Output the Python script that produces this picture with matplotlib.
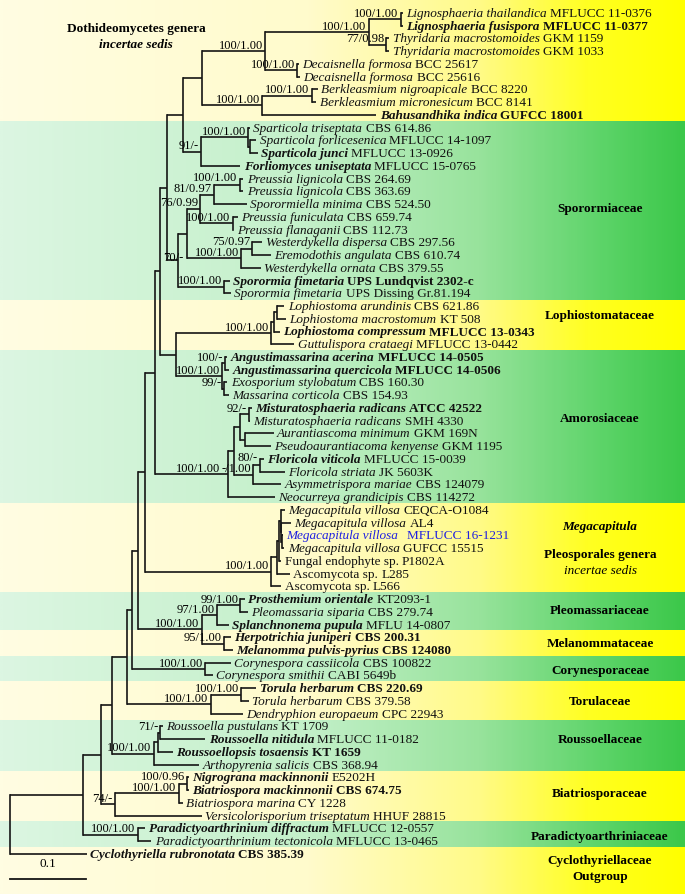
import matplotlib
matplotlib.use("Agg")
import matplotlib.pyplot as plt
import numpy as np
from matplotlib.colors import LinearSegmentedColormap

plt.rcParams["font.family"] = ["Liberation Serif", "DejaVu Serif"]

# ---- leaves (top to bottom) ----
leaf_species = [
    "Lignosphaeria thailandica", "Lignosphaeria fusispora", "Thyridaria macrostomoides",
    "Thyridaria macrostomoides", "Decaisnella formosa", "Decaisnella formosa",
    "Berkleasmium nigroapicale", "Berkleasmium micronesicum", "Bahusandhika indica",
    "Sparticola triseptata", "Sparticola forlicesenica", "Sparticola junci",
    "Forliomyces uniseptata", "Preussia lignicola", "Preussia lignicola",
    "Sporormiella minima", "Preussia funiculata", "Preussia flanaganii",
    "Westerdykella dispersa", "Eremodothis angulata", "Westerdykella ornata",
    "Sporormia fimetaria", "Sporormia fimetaria", "Lophiostoma arundinis",
    "Lophiostoma macrostomum", "Lophiostoma compressum", "Guttulispora crataegi",
    "Angustimassarina acerina", "Angustimassarina quercicola", "Exosporium stylobatum",
    "Massarina corticola", "Misturatosphaeria radicans", "Misturatosphaeria radicans",
    "Aurantiascoma minimum", "Pseudoaurantiacoma kenyense", "Floricola viticola",
    "Floricola striata", "Asymmetrispora mariae", "Neocurreya grandicipis",
    "Megacapitula villosa", "Megacapitula villosa", "Megacapitula villosa",
    "Megacapitula villosa", "Fungal endophyte sp.", "Ascomycota sp.",
    "Ascomycota sp.", "Prosthemium orientale", "Pleomassaria siparia",
    "Splanchnonema pupula", "Herpotrichia juniperi", "Melanomma pulvis-pyrius",
    "Corynespora cassiicola", "Corynespora smithii", "Torula herbarum",
    "Torula herbarum", "Dendryphion europaeum", "Roussoella pustulans",
    "Roussoella nitidula", "Roussoellopsis tosaensis", "Arthopyrenia salicis",
    "Nigrograna mackinnonii", "Biatriospora mackinnonii", "Biatriospora marina",
    "Versicolorisporium triseptatum", "Paradictyoarthrinium diffractum",
    "Paradictyoarthrinium tectonicola", "Cyclothyriella rubronotata",
]
leaf_strains = [
    "MFLUCC 11-0376", "MFLUCC 11-0377", "GKM 1159", "GKM 1033", "BCC 25617", "BCC 25616",
    "BCC 8220", "BCC 8141", "GUFCC 18001", "CBS 614.86", "MFLUCC 14-1097", "MFLUCC 13-0926",
    "MFLUCC 15-0765", "CBS 264.69", "CBS 363.69", "CBS 524.50", "CBS 659.74", "CBS 112.73",
    "CBS 297.56", "CBS 610.74", "CBS 379.55", "UPS Lundqvist 2302-c", "UPS Dissing Gr.81.194",
    "CBS 621.86", "KT 508", "MFLUCC 13-0343", "MFLUCC 13-0442", "MFLUCC 14-0505",
    "MFLUCC 14-0506", "CBS 160.30", "CBS 154.93", "ATCC 42522", "SMH 4330", "GKM 169N",
    "GKM 1195", "MFLUCC 15-0039", "JK 5603K", "CBS 124079", "CBS 114272", "CEQCA-O1084",
    "AL4", "MFLUCC 16-1231", "GUFCC 15515", "P1802A", "L285", "L566", "KT2093-1",
    "CBS 279.74", "MFLU 14-0807", "CBS 200.31", "CBS 124080", "CBS 100822", "CABI 5649b",
    "CBS 220.69", "CBS 379.58", "CPC 22943", "KT 1709", "MFLUCC 11-0182", "KT 1659",
    "CBS 368.94", "E5202H", "CBS 674.75", "CY 1228", "HHUF 28815", "MFLUCC 12-0557",
    "MFLUCC 13-0465", "CBS 385.39",
]
bold_species = {1, 8, 11, 12, 21, 25, 27, 28, 31, 35, 46, 48, 49, 50, 53, 57, 58, 60, 61, 64, 66}
bold_strain = {1, 8, 21, 25, 27, 28, 31, 49, 50, 53, 58, 61, 66}
plain_species = {"Fungal endophyte sp.", "Ascomycota sp."}
blue_leaf = 41

# tip depth (substitutions/site from root)
leaf_depth = [
    0.517, 0.517, 0.499, 0.499, 0.380, 0.382, 0.405, 0.403, 0.482,
    0.316, 0.324, 0.326, 0.303, 0.307, 0.307, 0.312, 0.300, 0.294,
    0.332, 0.343, 0.330, 0.289, 0.291, 0.361, 0.363, 0.355, 0.374,
    0.286, 0.288, 0.286, 0.288, 0.318, 0.316, 0.347, 0.343, 0.334,
    0.362, 0.357, 0.349, 0.362, 0.370, 0.359, 0.361, 0.357, 0.368,
    0.357, 0.309, 0.313, 0.288, 0.291, 0.293, 0.291, 0.267, 0.324,
    0.314, 0.307, 0.201, 0.257, 0.214, 0.249, 0.235, 0.235, 0.227,
    0.252, 0.178, 0.186, 0.101,
]

# internal nodes: (name, children, depth, support)
clades = [
    ("Lig", [0, 1], 0.514, "100/1.00"),
    ("Thy", [2, 3], 0.495, "77/0.98"),
    ("B", ["Lig", "Thy"], 0.472, "100/1.00"),
    ("Dec", [4, 5], 0.378, "100/1.00"),
    ("C", ["B", "Dec"], 0.336, "100/1.00"),
    ("Berk", [6, 7], 0.397, "100/1.00"),
    ("G", ["Berk", 8], 0.332, "100/1.00"),
    ("F", ["C", "G"], 0.253, ""),
    ("S2", [10, 11], 0.316, ""),
    ("S", [9, "S2"], 0.313, "100/1.00"),
    ("I", ["S", 12], 0.251, "91/-"),
    ("H", ["F", "I"], 0.228, ""),
    ("P1", [13, 14], 0.302, "100/1.00"),
    ("P2", ["P1", 15], 0.268, "81/0.97"),
    ("P3", [16, 17], 0.293, "100/1.00"),
    ("K", ["P2", "P3"], 0.250, "76/0.99"),
    ("W1", [18, 19], 0.319, "75/0.97"),
    ("W2", ["W1", 20], 0.304, "100/1.00"),
    ("L", ["K", "W2"], 0.233, ""),
    ("SP", [21, 22], 0.282, "100/1.00"),
    ("M", ["L", "SP"], 0.221, "70/-"),
    ("J", ["H", "M"], 0.206, ""),
    ("LC", [23, 24], 0.351, ""),
    ("LB", ["LC", 25], 0.347, ""),
    ("LA", ["LB", 26], 0.344, "100/1.00"),
    ("AG", [27, 28], 0.283, "100/-"),
    ("EM", [29, 30], 0.281, "99/-"),
    ("AM", ["AG", "EM"], 0.279, "100/1.00"),
    ("O", ["LA", "AM"], 0.219, ""),
    ("N", ["J", "O"], 0.197, ""),
    ("MR", [31, 32], 0.314, "92/-"),
    ("AP", [33, 34], 0.309, ""),
    ("MA", ["MR", "AP"], 0.302, ""),
    ("F1", [35, 36], 0.329, "80/-"),
    ("FL", ["F1", 37], 0.320, "-/1.00"),
    ("MB", ["MA", "FL"], 0.295, ""),
    ("AMO", ["MB", 38], 0.287, "100/1.00"),
    ("Q", ["N", "AMO"], 0.191, ""),
    ("VC3", [41, 42], 0.358, ""),
    ("VC2", [40, "VC3"], 0.357, ""),
    ("VC", [39, "VC2"], 0.356, ""),
    ("MG3", ["VC", 43], 0.354, ""),
    ("MG2", ["MG3", 44], 0.351, ""),
    ("MG", ["MG2", 45], 0.344, "100/1.00"),
    ("T", ["Q", "MG"], 0.177, ""),
    ("PO", [46, 47], 0.303, "99/1.00"),
    ("PM", ["PO", 48], 0.272, "97/1.00"),
    ("ME", [49, 50], 0.281, "95/1.00"),
    ("V", ["PM", "ME"], 0.252, "100/1.00"),
    ("U", ["T", "V"], 0.169, ""),
    ("CO", [51, 52], 0.257, "100/1.00"),
    ("X", ["U", "CO"], 0.161, ""),
    ("TH", [53, 54], 0.304, "100/1.00"),
    ("TO", ["TH", 55], 0.264, "100/1.00"),
    ("Y", ["X", "TO"], 0.154, ""),
    ("R2", [56, 57], 0.198, "71/-"),
    ("R1", ["R2", 58], 0.195, ""),
    ("RO", ["R1", 59], 0.189, "100/1.00"),
    ("Z", ["Y", "RO"], 0.134, ""),
    ("NB", [60, 61], 0.233, "100/0.96"),
    ("BB", ["NB", 62], 0.222, "100/1.00"),
    ("BI", ["BB", 63], 0.1375, "74/-"),
    ("AA", ["Z", "BI"], 0.120, ""),
    ("PD", [64, 65], 0.168, "100/1.00"),
    ("AB", ["AA", "PD"], 0.0964, ""),
    ("root", ["AB", 66], 0.0, ""),
]

# coloured bands: (first leaf, last leaf, colour)
bands = [(0, 8, "y"), (9, 22, "g"), (23, 26, "y"), (27, 38, "g"), (39, 45, "y"),
         (46, 48, "g"), (49, 50, "y"), (51, 52, "g"), (53, 55, "y"), (56, 59, "g"),
         (60, 63, "y"), (64, 65, "g"), (66, 66, "y")]

# ---- layout ----
W, H = 685, 895
PX_PER_UNIT = 760.0      # 0.1 subst. = 76 px
X0 = 10                  # root x in px
ROW = 12.74              # leaf spacing in px
Y0 = 14                  # first leaf y in px

fig = plt.figure(figsize=(W / 100, H / 100), dpi=100)
ax = fig.add_axes([0, 0, 1, 1])
ax.axis("off")
xlim = (-X0 / PX_PER_UNIT, (W - X0) / PX_PER_UNIT)
ylim = ((H - Y0) / ROW, -Y0 / ROW)

yellow = LinearSegmentedColormap.from_list(
    "yl", [(0, "#fffde2"), (0.45, "#fffbcc"), (0.7, "#fffa88"), (0.86, "#ffff22"), (1, "#ffff00")])
green = LinearSegmentedColormap.from_list(
    "gr", [(0, "#dcf6e2"), (0.45, "#c3f0c9"), (0.7, "#98e39c"), (0.88, "#5dd469"), (1, "#3cc84a")])
grad = np.linspace(0, 1, 300).reshape(1, -1)
for i, (a, b, c) in enumerate(bands):
    top = a - 0.5 if i > 0 else ylim[1]
    bot = b + 0.5 if i < len(bands) - 1 else ylim[0]
    ax.imshow(grad, extent=(xlim[0], xlim[1], bot, top), aspect="auto",
              cmap=yellow if c == "y" else green, zorder=0, interpolation="bilinear")

clade_map = {c[0]: c for c in clades}


def node_y(ref):
    if isinstance(ref, int):
        return ref
    ch = clade_map[ref][1]
    return (node_y(ch[0]) + node_y(ch[-1])) / 2


def node_x(ref):
    if isinstance(ref, int):
        return leaf_depth[ref]
    return clade_map[ref][2]


lc = "#151515"
lw = 1.2
# nudges for crowded support values (px right, px up)
label_shift = {"AMO": (-6, 0), "M": (7, -3), "W1": (0, 1.5), "NB": (0, 1.5),
               "F1": (0, 1.5), "P1": (0, 1.5)}
for name, children, depth, support in clades:
    ys = [node_y(ch) for ch in children]
    ax.plot([depth, depth], [ys[0], ys[-1]], color=lc, lw=lw, solid_capstyle="projecting", zorder=2)
    for ch, yy in zip(children, ys):
        ax.plot([depth, node_x(ch)], [yy, yy], color=lc, lw=lw, solid_capstyle="butt", zorder=2)
    if support:
        dx, dy = label_shift.get(name, (0, 0))
        ax.annotate(support, (depth, node_y(name)),
                    xytext=(-1.5 + dx * 0.72, 0.3 + dy * 0.72),
                    textcoords="offset points", ha="right", va="bottom", fontsize=9, zorder=3)

# leaf labels
for i, (sp, st) in enumerate(zip(leaf_species, leaf_strains)):
    col = "#2020e0" if i == blue_leaf else "#111111"
    style = "normal" if sp in plain_species else "italic"
    t = ax.annotate(sp, (leaf_depth[i], i), xytext=(2.4, 0), textcoords="offset points",
                    ha="left", va="center", fontsize=9.5, style=style, color=col,
                    fontweight="bold" if i in bold_species else "normal", zorder=3)
    gap = 6.5 if i == blue_leaf else 2.4
    ax.annotate(st, xy=(1, 0.5), xycoords=t, xytext=(gap, 0), textcoords="offset points",
                ha="left", va="center", fontsize=9.5, color=col,
                fontweight="bold" if i in bold_strain else "normal", zorder=3)


def px2x(px):
    return (px - X0) / PX_PER_UNIT


def px2y(py):
    return (py - Y0) / ROW


# group labels
ax.text(px2x(136), px2y(29), "Dothideomycetes genera", ha="center", va="center",
        fontsize=9.5, fontweight="bold")
ax.text(px2x(136), px2y(45), "incertae sedis", ha="center", va="center",
        fontsize=9.5, fontweight="bold", style="italic")
families = [
    ("Sporormiaceae", 209, "normal"), ("Lophiostomataceae", 316, "normal"),
    ("Amorosiaceae", 419, "normal"), ("Megacapitula", 527, "italic"),
    ("Pleosporales genera", 555, "normal"), ("incertae sedis", 571, "plainit"),
    ("Pleomassariaceae", 611, "normal"), ("Melanommataceae", 644, "normal"),
    ("Corynesporaceae", 671, "normal"), ("Torulaceae", 702, "normal"),
    ("Roussoellaceae", 740, "normal"), ("Biatriosporaceae", 794, "normal"),
    ("Paradictyoarthriniaceae", 837, "normal"), ("Cyclothyriellaceae", 861, "normal"),
    ("Outgroup", 877, "normal"),
]
for txt, py, st in families:
    ax.text(px2x(600), px2y(py), txt, ha="center", va="center", fontsize=9.5,
            fontweight="normal" if st == "plainit" else "bold",
            style="italic" if st in ("italic", "plainit") else "normal")

# scale bar
ax.plot([0, 0.1], [px2y(880), px2y(880)], color=lc, lw=1.3)
ax.text(0.05, px2y(870), "0.1", ha="center", va="bottom", fontsize=9.5)

ax.set_xlim(*xlim)
ax.set_ylim(*ylim)
fig.savefig("out.png", dpi=100)
